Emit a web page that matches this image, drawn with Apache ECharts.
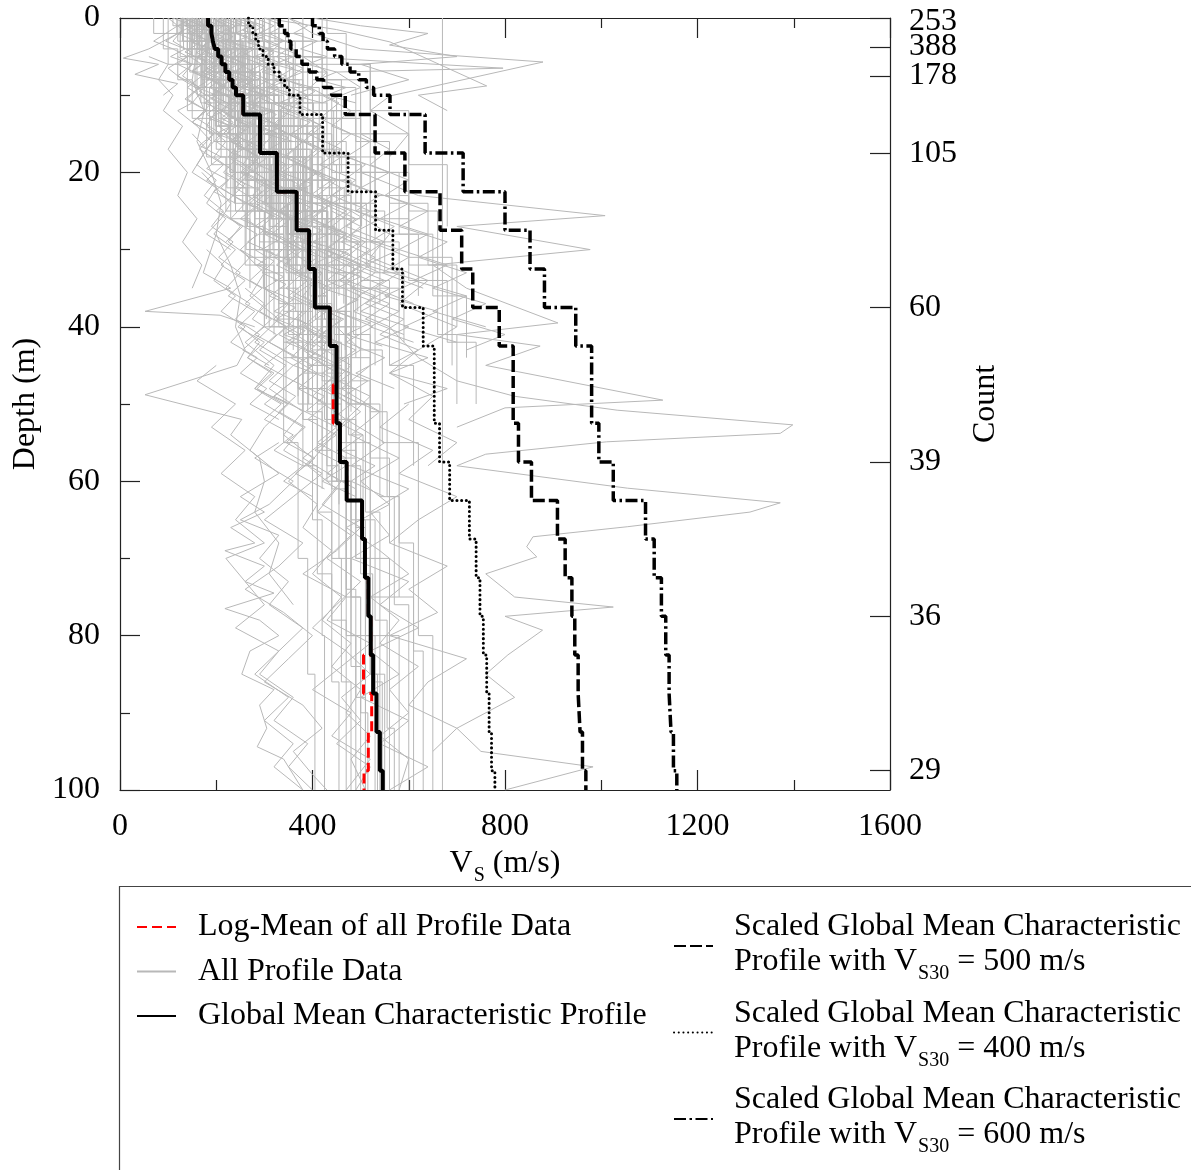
<!DOCTYPE html>
<html>
<head>
<meta charset="utf-8">
<script src="https://cdn.jsdelivr.net/npm/echarts@6/dist/echarts.min.js"></script>
<style>
  html, body { margin: 0; padding: 0; background: #fff; }
  #chart { width: 1191px; height: 1170px; }
</style>
</head>
<body>
<div id="chart"></div>
<script>
// Layer boundaries (m) of the characteristic profiles
const depthBounds = [0, 1, 2, 3, 4, 5, 6, 7, 8, 9, 10, 12.5, 17.5, 22.5, 27.5, 32.5, 37.5, 42.5, 47.5, 52.5, 57.5, 62.5, 67.5, 72.5, 77.5, 82.5, 87.5, 92.5, 97.5, 100];

// Vs (m/s) of each layer
const globalMeanVs = [183, 190, 193, 197, 204, 211, 219, 227, 234, 241, 256, 291, 326, 367, 393, 405, 436, 450, 450, 457, 471, 503, 509, 516, 521, 526, 533, 540, 546];
const logMeanVs    = [183, 190, 193, 197, 204, 211, 219, 227, 234, 241, 256, 291, 326, 367, 393, 405, 436, 450, 443, 457, 471, 503, 509, 516, 521, 506, 523, 516, 507];
const scaled400Vs  = [267, 276, 282, 288, 297, 308, 320, 331, 342, 352, 374, 421, 474, 531, 567, 587, 630, 653, 653, 664, 685, 726, 740, 748, 755, 762, 767, 772, 779];
const scaled500Vs  = [331, 342, 349, 355, 366, 378, 393, 409, 423, 440, 468, 530, 592, 665, 710, 733, 788, 817, 817, 828, 855, 909, 925, 939, 945, 952, 956, 961, 968];
const scaled600Vs  = [400, 414, 422, 431, 446, 461, 478, 496, 512, 527, 561, 634, 713, 800, 852, 882, 947, 980, 980, 995, 1025, 1092, 1110, 1125, 1134, 1141, 1145, 1150, 1157];

// Number of profiles reaching each depth (right axis)
const countDepths = [0, 3.75, 7.5, 17.5, 37.5, 57.5, 77.5, 97.5];
const countLabels = [253, 388, 178, 105, 60, 39, 36, 29];
// label anchors; the surface count sits just below the top frame
const countLabelDepths = [0.5, 3.75, 7.5, 17.5, 37.5, 57.5, 77.5, 97.5];

const xTicks = [0, 400, 800, 1200, 1600];
const yTicks = [0, 20, 40, 60, 80, 100];

// Layered site profiles: pairs of [layer bottom depth (m), Vs (m/s)] from the surface down
const stepProfiles = [
  [1,110, 3,130, 6,150, 10,175, 15,200, 22,240],
  [2,140, 5,165, 9,190, 14,230, 20,270, 27,310, 34,350],
  [1.5,160, 4,185, 8,210, 13,250, 19,290, 26,340, 33,380, 40,420],
  [2,180, 6,200, 11,240, 17,290, 24,330, 31,370],
  [3,200, 7,230, 12,270, 18,320, 25,360, 32,410, 40,450, 48,480],
  [2,220, 5,250, 10,290, 16,330, 23,380, 30,430],
  [1,240, 4,270, 8,310, 13,350, 19,400, 26,450, 34,500],
  [3,260, 8,300, 14,350, 21,410, 29,470],
  [2,290, 6,330, 11,380, 18,430, 25,490, 33,550],
  [2,330, 7,380, 13,430, 20,490, 28,560, 36,620],
  [3,380, 9,430, 16,490, 24,560, 32,640, 40,700],
  [2,430, 6,470, 12,520, 19,600, 27,680],
  [4,90, 8,120, 13,150, 19,190, 26,230, 35,270],
  [2,70, 6,100, 12,140, 18,180, 25,220, 32,260, 40,300],
  [3,150, 8,170, 14,200, 21,250, 29,290, 37,330, 46,380, 56,420],
  [1,170, 3,190, 6,215, 10,245, 15,280, 21,320, 28,360, 36,400, 45,430, 55,460, 66,490, 80,510, 100,530],
  [2,190, 5,220, 9,255, 14,295, 20,335, 27,375, 35,415, 44,445, 54,475, 65,505, 78,530, 92,555, 100,570],
  [3,120, 7,145, 12,175, 18,210, 25,255, 33,300, 42,340, 52,380, 64,410, 78,440, 100,470],
  [2,210, 7,240, 13,280, 20,310, 28,350, 37,390, 47,420, 60,450, 75,480, 90,500],
  [4,250, 9,280, 15,330, 23,370, 31,420, 40,470, 50,500, 62,540, 76,570, 100,600],
  [1,130, 4,155, 8,180, 13,205, 19,240, 26,280, 34,320, 43,360],
  [2,200, 6,235, 10,260, 16,300, 23,345, 30,395, 38,440, 47,480, 57,520, 68,560],
  [3,170, 7,195, 12,225, 17,265, 24,300, 32,340, 41,375, 50,410, 61,440, 74,470, 88,490, 100,510],
  [5,280, 11,320, 18,370, 26,420, 35,480, 45,530],
  [2,310, 6,350, 12,400, 20,460, 29,520, 38,580],
  [3,350, 8,400, 15,460, 23,530, 32,600, 41,660, 50,700],
  [2,100, 5,125, 10,160, 16,195, 23,235, 31,270, 40,310, 50,345],
  [1,150, 3,175, 7,205, 12,230, 18,265, 25,305, 33,345, 42,390, 52,425, 63,455],
  [4,230, 9,265, 15,300, 22,340, 30,385, 39,425, 49,455],
  [2,260, 6,285, 11,320, 17,355, 24,395, 32,440, 41,485, 51,520, 62,555, 75,580],
  [3,190, 8,215, 14,245, 21,285, 29,325, 38,365, 48,400, 58,430, 70,455, 84,480, 100,500],
  [2,215, 5,240, 9,275, 15,310, 22,350, 30,385, 40,420, 52,450, 65,480, 80,510, 100,540],
  [1,175, 4,200, 8,230, 13,270, 20,310, 28,355, 37,400, 47,440, 58,470, 72,500, 86,525, 100,545],
  [6,140, 12,180, 20,230, 30,280, 40,330, 52,380],
  [3,240, 10,280, 18,330, 28,380, 38,430, 50,470, 64,510, 80,540, 100,580],
  [2,300, 8,330, 15,380, 24,440, 34,500, 45,560, 58,610],
  [4,160, 10,200, 17,250, 25,290, 34,340, 44,380, 56,410, 70,440, 86,460, 100,480],
  [2,185, 7,225, 13,260, 20,300, 28,345, 36,395, 46,430, 57,460, 70,490, 85,520, 100,550],
  [3,270, 9,310, 16,350, 24,400, 33,455, 43,500, 55,545, 68,580, 82,610, 100,630],
  [5,200, 12,250, 20,300, 29,340, 38,380],
  [100,670],
  [9,250, 25,400, 40,430],
  [13,300, 35,500, 45,520],
  [8,420, 15,500, 25,600, 35,660],
  [6,330, 20,520, 31,600, 45,690],
  [2,160, 6,190, 12,230, 20,280, 30,340, 45,400, 60,430, 80,470, 100,490],
  [3,210, 10,260, 20,320, 32,380, 45,420, 60,450, 80,480, 100,510],
  [5,300, 15,360, 30,420, 50,480, 70,520, 100,560],
  [4,250, 12,300, 25,380, 40,430, 55,470, 75,520, 100,610],
  [3,330, 10,380, 20,440, 35,520, 55,580, 80,620, 100,650],
  [4,140, 12,180, 25,240, 40,300, 55,340, 70,370, 85,390, 100,405],
  [3,180, 10,220, 20,280, 35,330, 50,370, 65,400, 80,420, 100,425],
  [2,175, 5,205, 9,235, 15,270, 22,310, 30,355],
  [1,195, 4,215, 8,245, 13,285, 19,330, 26,370, 34,410],
  [3,225, 7,255, 12,290, 18,335, 25,385, 33,430, 42,470],
  [2,155, 6,180, 11,215, 17,250, 24,290, 31,330],
  [4,205, 9,230, 15,275, 22,325, 29,360, 37,400],
  [1,135, 3,160, 7,190, 12,220, 18,255, 25,295],
  [2,245, 6,275, 11,305, 18,345, 26,395, 35,445, 44,490],
  [3,165, 8,195, 13,235, 19,275, 26,315, 34,360, 43,400, 53,430],
  [2,280, 5,310, 10,345, 16,390, 23,435, 31,480],
  [5,185, 10,215, 16,255, 23,300, 31,345, 40,385],
  [2,125, 5,150, 9,175, 14,205, 20,235, 27,265],
  [3,215, 6,245, 11,275, 17,315, 24,360, 32,400, 41,445, 51,480],
  [1,200, 3,225, 6,250, 10,280, 15,320, 21,365, 28,410, 36,455],
  [4,145, 9,170, 15,200, 22,245, 30,290, 39,330, 49,370],
  [2,265, 7,300, 13,335, 20,375, 28,420, 37,465],
  [3,230, 8,250, 14,290, 21,345, 29,375, 38,415, 48,455, 60,490],
  [2,190, 6,220, 12,260, 18,300, 26,345, 34,385, 44,420],
  [2,128, 5,148, 9,172, 14,198, 20,228, 27,262, 35,298],
  [1,138, 4,162, 8,186, 12,214, 17,246, 23,282, 30,318],
  [3,146, 6,170, 10,196, 15,226, 21,262, 28,302, 36,340],
  [2,158, 5,182, 9,206, 14,238, 20,276, 26,318, 33,360, 41,400],
  [1,166, 3,186, 7,212, 12,244, 18,282, 25,326, 32,366],
  [4,178, 8,198, 13,232, 19,270, 26,312, 34,356, 43,396],
  [2,188, 6,214, 10,240, 15,276, 21,318, 28,362, 36,408],
  [3,198, 7,222, 12,256, 18,296, 25,340, 33,388],
  [1,206, 4,228, 8,258, 13,292, 19,334, 26,380, 34,426, 43,468],
  [2,218, 5,238, 9,268, 14,306, 20,350, 27,398, 35,446],
  [3,232, 7,256, 12,292, 18,334, 25,382, 33,432],
  [2,242, 6,268, 11,306, 17,350, 24,398, 32,450, 41,500],
  [1,252, 4,280, 9,318, 15,362, 22,412, 30,466],
  [3,268, 8,298, 14,340, 21,388, 29,440, 38,494],
  [2,282, 6,312, 11,352, 17,402, 24,456, 32,512],
  [3,296, 8,330, 14,372, 21,424, 29,480, 37,540],
  [2,312, 6,344, 12,390, 19,444, 27,502],
  [3,322, 9,364, 16,414, 24,470, 33,530, 42,590],
  [2,118, 6,140, 11,168, 17,200, 24,238, 32,280, 41,320],
  [4,132, 9,156, 15,186, 22,222, 30,262, 39,304],
  [2,144, 5,166, 10,194, 16,228, 23,268, 31,312, 40,352, 50,392],
  [3,154, 7,178, 12,208, 18,244, 25,286, 33,330],
  [1,162, 4,184, 8,214, 13,250, 19,290, 26,334, 34,378, 43,418, 53,448],
  [2,172, 6,196, 11,226, 17,262, 24,304, 32,348, 41,392],
  [3,184, 7,208, 12,240, 18,278, 25,322, 33,368, 42,410, 52,444],
  [2,194, 5,216, 9,246, 14,282, 20,324, 27,370, 35,414],
  [4,204, 9,232, 15,268, 22,312, 30,360, 39,406, 49,446],
  [2,214, 6,240, 11,274, 17,316, 24,362, 32,410],
  [3,226, 8,252, 14,290, 21,334, 29,384, 38,430, 48,468],
  [2,236, 5,262, 10,298, 16,340, 23,388, 31,438],
  [3,200, 10,240, 20,300, 30,360, 40,400, 50,440, 60,460],
  [5,230, 12,270, 22,330, 32,390, 42,430, 52,460, 62,490],
  [4,170, 11,210, 21,260, 31,310, 41,350, 51,390, 61,420],
  [6,260, 14,310, 24,370, 34,430, 44,480, 54,520],
  [3,150, 9,190, 18,240, 28,290, 38,340, 48,370, 58,400],
  [5,190, 15,250, 30,330, 45,390, 60,440, 75,470, 90,500, 100,515],
  [4,220, 14,280, 28,350, 42,410, 56,450, 70,490, 85,520, 100,535],
  [6,160, 16,210, 30,280, 44,340, 58,380, 72,410, 86,440, 100,455],
  [5,350, 12,420, 20,500, 28,580, 36,650, 44,720],
  [4,300, 10,360, 18,450, 26,530, 34,600, 42,680, 50,740]
];

// Continuously logged profiles: pairs of [Vs (m/s), depth (m)]
const tracedProfiles = [
  [180,0, 160,4, 150,8, 175,12, 160,16, 190,20, 210,24, 200,28, 230,32, 250,36, 240,40, 260,43, 243,45, 52,48.8, 253,52, 230,54, 290,57, 300,60, 280,64, 330,68, 310,72, 360,76],
  [560,40, 620,44, 700,47, 820,49, 1033,50.8, 1398,52.7, 1372,53.8, 1011,54.9, 760,56.5, 700,58, 1054,60.9, 1372,62.8, 1309,64, 1054,65.9, 858,67.2, 845,68.5, 866,69.8, 760,72, 820,75, 1025,76.3, 800,77.5, 878,79.3, 806,82.5, 760,85, 820,88, 700,92, 750,95, 983,97, 800,100],
  [300,40, 260,42, 320,45, 280,48, 350,50, 300,53, 270,56, 330,59, 250,62, 300,64, 230,66, 280,68, 218,69, 300,71, 260,73, 320,74.5, 218,76.5, 290,78, 330,80, 270,82, 253,85, 320,87, 290,89, 305,92, 285,94.4, 340,96, 380,100],
  [380,38, 330,41, 420,44, 360,47, 300,50, 380,53, 340,56, 420,59, 360,62, 300,65, 380,68, 330,71, 260,74, 340,77, 400,80, 350,83, 300,86, 380,89, 420,92, 360,95, 400,98, 430,100],
  [450,40, 500,43, 420,46, 520,49, 470,52, 550,55, 480,58, 600,61, 520,64, 560,67, 480,70, 600,73, 540,76, 620,79, 520,82, 580,85, 500,88, 600,91, 540,94, 640,97, 560,100],
  [350,30, 420,33, 380,36, 460,39, 400,42, 480,45, 430,48, 500,51, 440,54, 380,57, 460,60, 420,63, 500,66, 450,69, 380,72, 470,75, 430,78, 520,81, 460,84, 400,87, 480,90, 440,93, 520,96, 470,100],
  [150,0, 120,1, 95,2, 70,3, 110,4, 140,5, 100,6.5, 130,8, 170,9.5, 150,11, 120,12, 160,14, 190,16, 170,18, 150,20, 200,22, 230,24, 210,26, 180,28, 230,30],
  [60,5, 100,6, 80,8, 110,10, 90,12, 130,14, 100,17, 140,20, 120,23, 160,26, 130,29, 170,32, 150,35],
  [300,0, 450,1.5, 561,3.1, 762,8.8, 620,10, 680,12],
  [350,0, 400,2, 500,4, 879,5.7, 561,10.1, 520,12, 600,15, 560,18],
  [300,3, 380,5, 796,6.5, 450,7, 500,9, 420,11],
  [500,20, 620,23, 1008,25.6, 700,27, 977,30, 650,32, 720,35, 910,39.5, 700,41, 873,42.5, 760,45, 1128,49.5, 800,50.5, 700,53],
  [480,25, 560,28, 520,31, 640,34, 580,37, 700,40, 620,43, 560,46, 650,49, 600,52, 700,55, 640,58],
  [250,30, 300,33, 270,36, 330,39, 280,42, 360,45, 310,48, 380,51, 340,54, 400,57, 350,60, 410,63, 380,66, 440,69, 400,72, 460,75, 420,78, 480,81, 440,84, 500,87, 470,90, 520,93, 480,96, 510,100],
  [200,28, 173,33, 230,35, 52,38, 208,38.5, 280,40],
  [200,45, 160,47, 240,50, 190,53, 260,56, 210,59, 280,62, 240,65, 300,68, 220,70, 260,73, 300,76, 240,79, 330,82, 280,85, 350,88, 300,91, 360,94, 320,97, 380,100],
  [400,0, 500,1, 640,2, 560,3.5, 700,5, 500,6, 600,8, 480,10],
  [120,2, 60,4, 7,5.2, 80,6, 31,7.3, 120,8.5, 90,10],
  [420,40, 380,43, 450,46, 400,49, 470,52, 430,55, 390,58, 450,61, 410,64, 480,67, 430,70, 500,73, 450,76, 400,79, 470,82, 520,85, 460,88, 500,91, 450,94, 520,97, 490,100],
  [520,45, 460,48, 540,51, 480,54, 580,57, 500,60, 560,63, 470,66, 540,69, 600,72, 520,75, 580,78, 540,81, 620,84, 560,87, 600,90, 540,93, 600,96, 580,100],
  [330,55, 280,57, 360,60, 310,63, 250,65, 330,67, 290,70, 350,73, 310,76, 380,79, 330,82, 290,85, 360,88, 320,91, 390,94, 350,97, 400,100],
  [600,50, 540,53, 650,56, 580,59, 700,62, 620,65, 560,68, 680,71, 600,74, 660,77, 560,80, 720,83, 640,86, 600,89, 700,92, 650,95],
  [130,0, 170,1, 140,2, 190,3, 160,4, 210,5, 180,6.5, 230,8, 200,9.5, 250,11, 220,12.5, 270,14, 240,16],
  [200,0, 240,1, 210,2.5, 260,4, 230,5.5, 280,7, 250,8.5, 300,10, 270,12, 330,14],
  [100,0, 130,1.5, 110,3, 150,4.5, 120,6, 170,7.5, 140,9, 190,11, 160,13, 210,15, 180,17],
  [250,0, 300,1, 270,2, 330,3.5, 300,5, 360,6.5, 320,8, 390,10, 350,12, 420,14],
  [160,0, 190,2, 170,4, 220,6, 190,8, 240,10, 210,12, 260,14, 230,16, 290,18, 260,20, 320,22],
  [140,0, 175,1, 150,2, 185,3, 160,4.5, 200,6, 175,7.5, 215,9, 190,10.5, 235,12, 205,14, 250,16, 225,18, 270,20, 240,22, 290,24, 260,26, 310,28],
  [190,0, 225,1.2, 200,2.4, 240,3.6, 215,4.8, 260,6, 230,7.5, 280,9, 250,10.5, 300,12, 270,13.5, 320,15, 290,17, 345,19, 310,21, 370,23, 330,25, 390,27, 360,29, 420,31],
  [110,0, 150,1, 120,2, 165,3.2, 135,4.4, 180,5.6, 150,6.8, 195,8, 165,9.5, 210,11, 180,12.5, 230,14, 200,16, 245,18, 215,20, 260,22],
  [230,0, 270,1, 240,2, 290,3.2, 255,4.5, 310,6, 275,7.5, 330,9, 295,10.5, 355,12, 320,14, 380,16, 345,18, 410,20, 370,22, 440,24, 400,26, 470,28, 430,30, 500,32],
  [160,0, 135,1, 175,2, 145,3, 190,4, 160,5.2, 205,6.4, 175,7.6, 220,8.8, 190,10, 240,11.5, 210,13, 260,14.5, 230,16, 285,18, 250,20, 305,22, 270,24, 330,26],
  [260,0, 300,1.5, 270,3, 320,4.5, 285,6, 345,7.5, 305,9, 370,10.5, 330,12, 395,13.5, 355,15, 420,17, 380,19, 450,21, 410,23, 480,25, 440,27, 510,29, 470,31, 540,33],
  [120,2, 95,3, 135,4, 105,5, 150,6, 120,7.5, 165,9, 135,10.5, 180,12, 150,13.5, 195,15, 165,17, 215,19, 180,21, 235,23, 200,25, 255,27, 220,29],
  [200,8, 240,10, 215,12, 265,14, 235,16, 290,18, 255,20, 315,22, 280,24, 340,26, 300,28, 365,30, 325,32, 390,34, 350,36, 415,38, 380,40, 440,42],
  [300,10, 350,12, 315,14, 380,16, 340,18, 410,20, 365,22, 440,24, 395,26, 470,28, 425,30, 500,32, 455,34, 530,36, 485,38, 560,40],
  [170,10, 200,12, 180,14, 220,16, 195,18, 240,20, 210,22, 260,24, 230,26, 285,28, 250,30, 305,32, 270,34, 325,36, 290,38, 345,40, 310,42, 365,44],
  [240,15, 280,17, 255,19, 305,21, 275,23, 330,25, 295,27, 355,29, 320,31, 380,33, 345,35, 405,37, 370,39, 430,41, 395,43, 455,45],
  [350,15, 410,17, 370,19, 440,21, 395,23, 470,25, 420,27, 500,29, 450,31, 530,33, 480,35, 560,37, 510,39, 590,41],
  [150,15, 180,17, 160,19, 200,21, 175,23, 215,25, 190,27, 235,29, 205,31, 250,33, 220,35, 270,37, 240,39, 290,41, 255,43, 310,45],
  [280,20, 330,22, 295,24, 355,26, 315,28, 380,30, 340,32, 405,34, 360,36, 430,38, 385,40, 455,42, 410,44, 480,46, 435,48, 500,50],
  [210,25, 250,27, 225,29, 270,31, 240,33, 295,35, 260,37, 315,39, 280,41, 340,43, 300,45, 360,47, 320,49, 385,51],
  [330,25, 380,27, 345,29, 410,31, 365,33, 440,35, 390,37, 465,39, 415,41, 490,43, 440,45, 515,47, 465,49, 540,51],
  [400,20, 460,22, 420,24, 490,26, 445,28, 520,30, 470,32, 550,34, 495,36, 580,38, 520,40, 610,42],
  [180,30, 215,32, 195,34, 240,36, 210,38, 260,40, 230,42, 285,44, 250,46, 305,48, 270,50, 330,52],
  [300,35, 350,37, 320,39, 375,41, 340,43, 400,45, 360,47, 425,49, 385,51, 450,53, 410,55, 470,57, 430,59, 490,61],
  [250,40, 290,42, 265,44, 315,46, 280,48, 335,50, 300,52, 360,54, 320,56, 380,58, 340,60, 400,62],
  [380,40, 430,42, 395,44, 455,46, 415,48, 480,50, 440,52, 505,54, 460,56, 530,58, 480,60, 550,62],
  [130,0, 160,0.8, 140,1.6, 170,2.4, 150,3.2, 185,4, 160,5, 200,6, 170,7, 210,8, 185,9, 225,10],
  [210,0, 250,0.8, 220,1.6, 265,2.4, 235,3.2, 280,4, 250,5, 295,6, 265,7, 310,8, 280,9, 330,10],
  [170,0, 200,0.8, 180,1.6, 215,2.4, 190,3.2, 230,4, 200,5, 245,6, 215,7, 260,8, 230,9, 275,10, 245,11, 290,12],
  [280,0, 320,1, 290,2, 340,3, 305,4, 360,5, 320,6, 380,7, 340,8, 400,9, 360,10, 420,11],
  [145,5, 170,6, 150,7, 185,8, 160,9, 200,10, 175,11, 215,12, 185,13, 230,14, 200,15, 245,16],
  [230,5, 260,6, 240,7, 280,8, 250,9, 300,10, 265,11, 320,12, 280,13, 340,14, 300,15, 360,16],
  [300,0, 340,1, 310,2, 360,3.5, 325,5, 380,6.5, 345,8, 405,9.5, 365,11, 430,13, 390,15, 460,17, 415,19, 490,21, 440,23, 520,25, 470,27, 550,29, 500,31, 580,33, 530,35, 610,37],
  [180,2, 210,3, 190,4, 225,5, 200,6, 245,7, 215,8, 260,9, 230,10, 280,11.5, 245,13, 300,14.5, 265,16, 320,17.5, 285,19, 345,20.5, 305,22, 370,23.5, 330,25, 395,26.5, 350,28, 420,29.5],
  [150,0, 180,1, 160,2.2, 195,3.4, 170,4.6, 210,5.8, 180,7, 225,8.2, 195,9.4, 240,10.6, 210,12, 255,13.4, 225,14.8, 275,16.2, 240,17.6, 295,19, 260,20.4],
  [260,8, 300,9.5, 275,11, 325,12.5, 290,14, 350,15.5, 310,17, 375,18.5, 335,20, 400,21.5, 355,23, 425,24.5, 380,26, 450,27.5, 400,29, 475,30.5, 425,32, 500,33.5, 450,35],
  [380,5, 430,7, 395,9, 455,11, 415,13, 480,15, 440,17, 510,19, 465,21, 540,23, 490,25, 570,27, 520,29, 600,31, 545,33, 630,35],
  [220,20, 260,21.5, 235,23, 280,24.5, 250,26, 300,27.5, 265,29, 320,30.5, 285,32, 340,33.5, 300,35, 360,36.5, 320,38, 385,39.5, 340,41, 405,42.5],
  [320,20, 370,21.5, 340,23, 395,24.5, 355,26, 420,27.5, 375,29, 445,30.5, 400,32, 470,33.5, 420,35, 495,36.5, 445,38, 520,39.5, 470,41, 545,42.5],
  [440,25, 500,27, 460,29, 530,31, 480,33, 560,35, 510,37, 590,39, 540,41, 620,43, 560,45],
  [170,20, 200,22, 180,24, 220,26, 195,28, 240,30, 210,32, 260,34, 225,36, 280,38, 245,40, 300,42, 265,44, 320,46, 285,48, 340,50],
  [260,35, 300,37, 275,39, 325,41, 290,43, 345,45, 310,47, 365,49, 330,51, 385,53, 345,55, 405,57, 365,59, 425,61],
  [340,40, 390,42, 355,44, 410,46, 370,48, 430,50, 390,52, 450,54, 405,56, 470,58, 420,60, 490,62],
  [410,30, 470,32, 430,34, 500,36, 450,38, 525,40, 470,42, 550,44, 490,46, 570,48],
  [120,5, 150,6, 130,7.5, 165,9, 140,10.5, 180,12, 150,13.5, 195,15, 165,16.5, 210,18, 180,19.5, 225,21, 195,22.5, 240,24],
  [200,12, 235,13.5, 215,15, 255,16.5, 230,18, 275,19.5, 245,21, 295,22.5, 260,24, 315,25.5, 280,27, 335,28.5, 295,30, 355,31.5],
  [280,30, 320,31.5, 295,33, 345,34.5, 310,36, 365,37.5, 325,39, 385,40.5, 345,42, 405,43.5, 360,45, 425,46.5],
  [240,0, 280,0.8, 255,1.6, 300,2.4, 265,3.2, 315,4, 280,5, 330,6, 295,7, 350,8, 310,9, 370,10, 330,11, 390,12],
  [190,0, 220,0.8, 200,1.6, 235,2.4, 210,3.2, 250,4, 220,5, 265,6, 235,7, 280,8, 250,9, 300,10],
  [350,0, 390,1, 360,2, 410,3, 375,4, 430,5, 390,6, 450,7, 410,8, 470,9, 430,10, 490,11],
  [420,10, 480,12, 440,14, 520,16, 470,18, 560,20, 500,22, 600,24, 540,26, 640,28, 580,30, 680,32, 610,34, 720,36, 650,38, 760,40],
  [360,12, 420,14, 380,16, 460,18, 410,20, 500,22, 440,24, 540,26, 480,28, 580,30, 510,32, 620,34, 550,36, 660,38, 590,40, 700,42],
  [500,15, 560,17, 520,19, 600,21, 550,23, 640,25, 580,27, 680,29, 620,31, 720,33, 650,35, 760,37, 690,39, 800,41, 720,43],
  [450,30, 520,32, 470,34, 560,36, 500,38, 600,40, 530,42, 640,44, 560,46, 680,48, 590,50]
];

const FONT = '"Liberation Serif", "Times New Roman", serif';
const FS = 32;
const N_LOG = 'Log-Mean of all Profile Data';
const N_ALL = 'All Profile Data';
const N_MEAN = 'Global Mean Characteristic Profile';
const N_500 = 'Scaled Global Mean Characteristic Profile with VS30 = 500 m/s';
const N_400 = 'Scaled Global Mean Characteristic Profile with VS30 = 400 m/s';
const N_600 = 'Scaled Global Mean Characteristic Profile with VS30 = 600 m/s';
const scaledVs30 = { [N_500]: 500, [N_400]: 400, [N_600]: 600 };

// Stair-step polyline for the characteristic profiles
function layerSteps(vs) {
  const pts = [];
  for (let i = 0; i < vs.length; i++) {
    pts.push([vs[i], depthBounds[i]], [vs[i], depthBounds[i + 1]]);
  }
  return pts;
}

// All gray profiles merged into one broken polyline
const profileData = [];
stepProfiles.forEach(p => {
  let top = 0;
  for (let i = 0; i < p.length; i += 2) {
    profileData.push([p[i + 1], top], [p[i + 1], p[i]]);
    top = p[i];
  }
  profileData.push(['-', '-']);
});
tracedProfiles.forEach(p => {
  for (let i = 0; i < p.length; i += 2) profileData.push([p[i], p[i + 1]]);
  profileData.push(['-', '-']);
});

const AXIS_COLOR = '#222';
const labelStyle = { fontFamily: FONT, fontSize: FS, color: '#000' };

function xAxisBase(pos) {
  return {
    type: 'value', position: pos, min: 0, max: 1600, interval: 400,
    axisLine: { show: true, onZero: false, lineStyle: { color: AXIS_COLOR, width: 1.2 } },
    axisTick: { show: true, inside: true, length: 20, lineStyle: { color: AXIS_COLOR, width: 1.2 } },
    minorTick: { show: true, splitNumber: 2, length: 10, lineStyle: { color: AXIS_COLOR, width: 1.2 } },
    splitLine: { show: false }
  };
}

// Count labels sit close together near the surface, so they are split over two
// label-only right axes (alternate entries) to keep every one of them visible.
function countLabelAxis(parity) {
  const anchors = countLabelDepths.filter((_, i) => i % 2 === parity);
  return {
    type: 'value', position: 'right', inverse: true, min: 0, max: 100,
    axisLine: { show: false }, axisTick: { show: false }, splitLine: { show: false },
    axisLabel: Object.assign({
      margin: 19, customValues: anchors, showMinLabel: true, showMaxLabel: true,
      formatter: v => String(countLabels[countLabelDepths.indexOf(v)])
    }, labelStyle)
  };
}

const chart = echarts.init(document.getElementById('chart'), null, { renderer: 'canvas' });

const option = {
  animation: false,
  backgroundColor: '#fff',
  grid: { left: 120, top: 18, width: 770, height: 772, containLabel: false },
  xAxis: [
    Object.assign(xAxisBase('bottom'), {
      axisLabel: Object.assign({ margin: 21, customValues: xTicks, formatter: v => String(v) }, labelStyle),
      name: '{a|V}{b|S}{a| (m/s)}',
      nameLocation: 'middle',
      nameGap: 56,
      nameTextStyle: {
        rich: {
          a: { fontFamily: FONT, fontSize: FS, color: '#000', lineHeight: 32, verticalAlign: 'top' },
          b: { fontFamily: FONT, fontSize: 20, color: '#000', lineHeight: 20, verticalAlign: 'top', padding: [18, 0, 0, 1] }
        }
      }
    }),
    Object.assign(xAxisBase('top'), { axisLabel: { show: false } })
  ],
  yAxis: [
    {
      type: 'value', position: 'left', inverse: true, min: 0, max: 100, interval: 20,
      axisLine: { show: true, onZero: false, lineStyle: { color: AXIS_COLOR, width: 1.2 } },
      axisTick: { show: true, inside: true, length: 20, lineStyle: { color: AXIS_COLOR, width: 1.2 } },
      minorTick: { show: true, splitNumber: 2, length: 10, lineStyle: { color: AXIS_COLOR, width: 1.2 } },
      splitLine: { show: false },
      axisLabel: Object.assign({ margin: 20, customValues: yTicks }, labelStyle),
      name: 'Depth (m)', nameLocation: 'middle', nameRotate: 90, nameGap: 76,
      nameTextStyle: labelStyle
    },
    {
      type: 'value', position: 'right', inverse: true, min: 0, max: 100,
      axisLine: { show: true, onZero: false, lineStyle: { color: AXIS_COLOR, width: 1.2 } },
      axisTick: { show: true, inside: true, length: 20, customValues: countDepths, lineStyle: { color: AXIS_COLOR, width: 1.2 } },
      splitLine: { show: false },
      axisLabel: { show: false },
      name: 'Count', nameLocation: 'middle', nameRotate: 90, nameGap: 80,
      nameTextStyle: labelStyle
    },
    countLabelAxis(0),
    countLabelAxis(1)
  ],
  legend: [
    {
      data: [N_LOG, N_ALL, N_MEAN],
      orient: 'vertical', left: 131, top: 906,
      itemWidth: 39, itemHeight: 14, itemGap: 12.5,
      itemStyle: { opacity: 0 },
      formatter: n => '{t|' + n + '}',
      textStyle: { rich: { t: { fontFamily: FONT, fontSize: FS, color: '#000', lineHeight: 32, padding: [0, 0, 0, 17] } } },
      selectedMode: false
    },
    {
      data: [N_500, N_400, N_600],
      orient: 'vertical', left: 668, top: 906,
      itemWidth: 39, itemHeight: 14, itemGap: 13.5,
      itemStyle: { opacity: 0 },
      formatter: n => '{f|Scaled Global Mean Characteristic}\n{f|Profile with V}{s|S30}{t| = ' + scaledVs30[n] + ' m/s}',
      textStyle: {
        rich: {
          f: { fontFamily: FONT, fontSize: FS, color: '#000', lineHeight: 35, verticalAlign: 'top', padding: [0, 0, 0, 16] },
          t: { fontFamily: FONT, fontSize: FS, color: '#000', lineHeight: 35, verticalAlign: 'top' },
          s: { fontFamily: FONT, fontSize: 20, color: '#000', lineHeight: 17, verticalAlign: 'top', padding: [18, 0, 0, 1] }
        }
      },
      selectedMode: false
    }
  ],
  graphic: [
    {
      type: 'rect', silent: true, z: -1,
      shape: { x: 119.5, y: 886.5, width: 1200, height: 400 },
      style: { fill: 'none', stroke: '#444', lineWidth: 1.2 }
    }
  ],
  series: [
    {
      name: N_ALL, type: 'line', data: profileData, connectNulls: false,
      showSymbol: false, symbol: 'none', silent: true, z: 1,
      lineStyle: { color: '#b8b8b8', width: 1 }, itemStyle: { color: '#c4c4c4', opacity: 0 }
    },
    {
      name: N_LOG, type: 'line', data: layerSteps(logMeanVs),
      showSymbol: false, symbol: 'none', silent: true, z: 2,
      lineStyle: { color: '#ff0000', width: 3, type: [10, 5] }, itemStyle: { color: '#ff0000', opacity: 0 }
    },
    {
      name: N_MEAN, type: 'line', data: layerSteps(globalMeanVs),
      showSymbol: false, symbol: 'none', silent: true, z: 3,
      lineStyle: { color: '#000', width: 4 }, itemStyle: { color: '#000', opacity: 0 }
    },
    {
      name: N_400, type: 'line', data: layerSteps(scaled400Vs),
      showSymbol: false, symbol: 'none', silent: true, z: 4,
      lineStyle: { color: '#000', width: 3, type: [0.1, 4.6], cap: 'round' }, itemStyle: { color: '#000', opacity: 0 }
    },
    {
      name: N_500, type: 'line', data: layerSteps(scaled500Vs),
      showSymbol: false, symbol: 'none', silent: true, z: 4,
      lineStyle: { color: '#000', width: 3.5, type: [12, 4] }, itemStyle: { color: '#000', opacity: 0 }
    },
    {
      name: N_600, type: 'line', data: layerSteps(scaled600Vs),
      showSymbol: false, symbol: 'none', silent: true, z: 4,
      lineStyle: { color: '#000', width: 3.5, type: [12, 3.5, 2.5, 3.5] }, itemStyle: { color: '#000', opacity: 0 }
    }
  ]
};

chart.setOption(option);
</script>
</body>
</html>
